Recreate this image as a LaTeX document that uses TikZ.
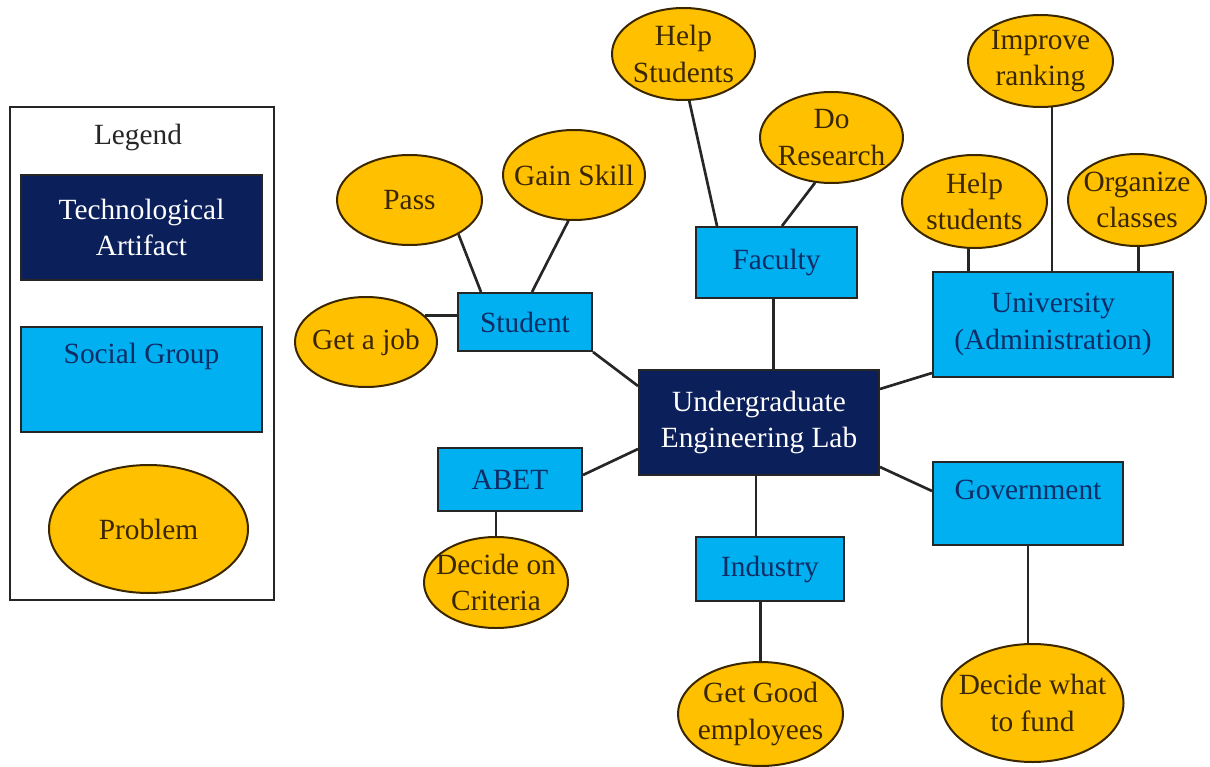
\documentclass[tikz,border=0pt]{standalone}
\usepackage{fontspec}
\setmainfont{Liberation Serif}
\usetikzlibrary{positioning, calc, shapes}

\definecolor{labnavy}{HTML}{0B1F5B}
\definecolor{groupblue}{HTML}{00B0F0}
\definecolor{probgold}{HTML}{FFC000}
\definecolor{grouptext}{HTML}{0E2D66}
\definecolor{probtext}{HTML}{3A2700}

\begin{document}
\begin{tikzpicture}[x=0.75pt, y=-0.75pt,
    every node/.style={font=\fontsize{22}{27.5}\selectfont, align=center},
    sz/.style 2 args={minimum width=#1*0.75pt, minimum height=#2*0.75pt},
    artifact/.style={rectangle, draw=black!85, line width=1.5pt, fill=labnavy, text=white, inner sep=0pt},
    group/.style={rectangle, draw=black!85, line width=1.5pt, fill=groupblue, text=grouptext, inner sep=0pt},
    problem/.style={ellipse, draw=probtext, line width=1.5pt, fill=probgold, text=probtext, inner sep=-30pt},
    link/.style={line width=2pt, draw=black!85}]
    \useasboundingbox (0,0) rectangle (1210,767);

    % legend
    \node[draw=black!85, line width=1pt, sz={264}{493}] (legendbox) at (142,353.5) {};
    \node[text=black!85] (legendtitle) at (138,137) {Legend};
    \node[artifact, sz={241}{105}] (keyartifact) at (141.5,227.5) {Technological\\Artifact};
    \node[group, sz={241}{105}] (keygroup) at (141.5,379.5) {Social Group\\[12pt]~};
    \node[problem, sz={199}{128}] (keyproblem) at (148.5,529) {Problem};

    % artifact and social groups
    \node[artifact, sz={240}{105}] (lab) at (759,422.5) {Undergraduate\\Engineering Lab};
    \node[group, sz={134}{58}] (student) at (525,322) {Student};
    \node[group, sz={161}{71}] (faculty) at (776.5,262.5) {Faculty};
    \node[group, sz={240}{105}] (univ) at (1053,324.5) {University\\(Administration)};
    \node[group, sz={144}{63}] (abet) at (510,479.5) {ABET};
    \node[group, sz={148}{64}] (industry) at (770,569) {Industry};
    \node[group, sz={190}{83}] (gov) at (1028,503.5) {Government\\[-7pt]~};

    % problems
    \node[problem, sz={145}{90}] (pass) at (409.5,200) {Pass};
    \node[problem, sz={142}{90}] (gain) at (574,175) {Gain Skill};
    \node[problem, sz={142}{90}] (job) at (366,342) {Get a job};
    \node[problem, sz={143}{92}] (helpf) at (683.5,54) {Help\\Students};
    \node[problem, sz={143}{91}] (research) at (831.5,137.5) {Do\\Research};
    \node[problem, sz={145}{92}] (improve) at (1040.5,61) {Improve\\ranking};
    \node[problem, sz={145}{93}] (helpu) at (974.5,201.5) {Help\\students};
    \node[problem, sz={138}{92}] (organize) at (1137,200) {Organize\\classes};
    \node[problem, sz={144}{91}] (criteria) at (496,582.5) {Decide on\\Criteria};
    \node[problem, sz={165}{104}] (good) at (760.5,714) {Get Good\\employees};
    \node[problem, sz={182}{118}] (fund) at (1032.5,703) {Decide what\\to fund};

    % links
    \draw[link] (pass.-35) -- ($(student.north west)+(24,0)$);
    \draw[link] (gain.-97) -- ($(student.north west)+(75,0)$);
    \draw[link] (job.24) -- (job.24 -| student.west);
    \draw[link] (student.south east) -- ($(lab.north west)+(0,17)$);
    \draw[link] (helpf.-83) -- ($(faculty.north west)+(22,0)$);
    \draw[link] (research.-110) -- ($(faculty.north west)+(87,0)$);
    \draw[link] ($(faculty.south)+(-3,0)$) -- ($(faculty.south |- lab.north)+(-3,0)$);
    \draw[link] (improve.-76) -- (improve.-76 |- univ.north);
    \draw[link] (helpu.-97) -- (helpu.-97 |- univ.north);
    \draw[link] (organize.-88) -- (organize.-88 |- univ.north);
    \draw[link] ($(lab.north east)+(0,20)$) -- ($(univ.south west)+(0,-5)$);
    \draw[link] ($(abet.east)+(0,-4.5)$) -- ($(lab.south west)+(0,-27)$);
    \draw[link] (criteria.north) -- (criteria.north |- abet.south);
    \draw[link] ($(lab.south)+(-3,0)$) -- ($(lab.south |- industry.north)+(-3,0)$);
    \draw[link] (good.north) -- (good.north |- industry.south);
    \draw[link] ($(lab.south east)+(0,-9)$) -- ($(gov.west)+(0,-12.5)$);
    \draw[link] (gov.south) -- (gov.south |- fund.north);
\end{tikzpicture}
\end{document}
